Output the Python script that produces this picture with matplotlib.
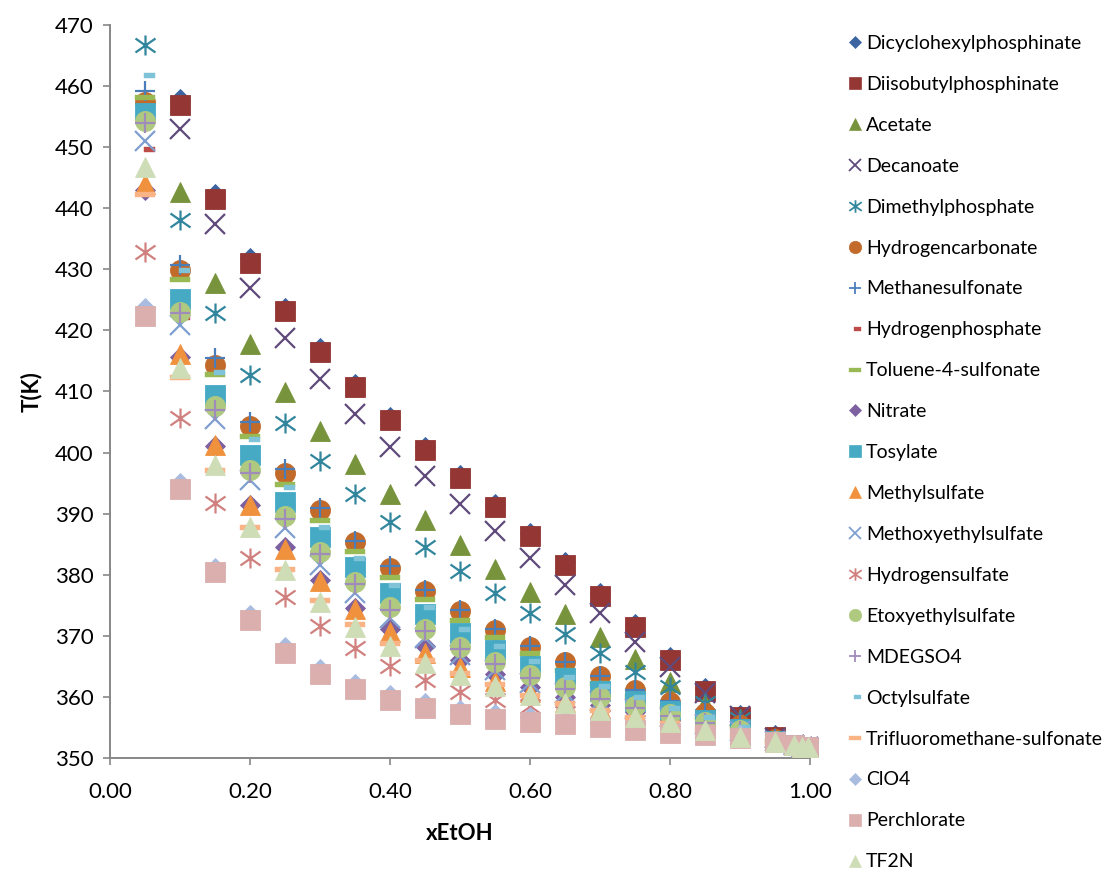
import numpy as np
import matplotlib
matplotlib.use("Agg")
import matplotlib.pyplot as plt
from matplotlib.path import Path
from matplotlib.lines import Line2D

nan = np.nan

# Mole fraction of ethanol
x_etoh = [0.05, 0.10, 0.15, 0.20, 0.25, 0.30, 0.35, 0.40, 0.45, 0.50, 0.55,
          0.60, 0.65, 0.70, 0.75, 0.80, 0.85, 0.90, 0.95, 0.977, 0.988, 0.997]

# Boiling temperatures (K) per anion
dicyclohexylphosphinate = [nan, 457.8, 442.3, 431.8, 423.7, 417.1, 411.3, 405.9, 401.0, 396.4, 391.6,
                           386.8, 382.1, 377.0, 371.9, 366.6, 361.5, 357.1, 353.8, 352.1, 351.9, 351.8]
diisobutylphosphinate = [nan, 456.8, 441.5, 431.1, 423.1, 416.5, 410.7, 405.4, 400.5, 395.9, 391.1,
                         386.3, 381.6, 376.5, 371.4, 366.1, 361.0, 356.7, 353.5, 352.1, 351.9, 351.8]
acetate = [nan, 442.6, 427.7, 417.7, 409.9, 403.6, 398.2, 393.3, 388.9, 384.9, 381.0,
           377.2, 373.6, 369.9, 366.2, 362.5, 358.9, 356.4, 353.3, 352.1, 351.9, 351.8]
decanoate = [nan, 452.9, 437.4, 426.9, 418.8, 412.1, 406.3, 401.0, 396.2, 391.6, 387.1,
             382.7, 378.3, 373.7, 369.1, 365.0, 360.6, 357.0, 353.4, 352.1, 351.9, 351.8]
dimethylphosphate = [466.6, 438.1, 422.9, 412.7, 404.9, 398.7, 393.3, 388.7, 384.6, 380.7, 377.1,
                     373.8, 370.4, 367.2, 364.1, 361.6, 359.0, 356.4, 353.2, 352.1, 351.9, 351.8]
hydrogencarbonate = [457.3, 429.8, 414.4, 404.3, 396.7, 390.6, 385.3, 381.2, 377.4, 374.1, 371.0,
                     368.2, 365.7, 363.4, 361.1, 359.2, 357.4, 355.5, 353.1, 352.1, 351.9, 351.8]
methanesulfonate = [459.2, 430.7, 415.4, 405.0, 397.3, 390.9, 385.6, 381.4, 377.6, 374.2, 371.1,
                    368.3, 365.8, 363.5, 361.2, 359.3, 357.5, 355.6, 353.1, 352.1, 351.9, 351.8]
hydrogenphosphate = [449.6, 422.2, 408.6, 398.8, 391.2, 385.5, 380.6, 376.5, 373.0, 370.0, 367.2,
                     364.7, 362.6, 360.6, 358.8, 357.2, 355.9, 354.6, 352.9, 352.1, 351.9, 351.8]
toluene_4_sulfonate = [458.1, 428.4, 412.9, 402.7, 394.9, 388.9, 383.9, 379.7, 376.0, 372.7, 369.8,
                       367.2, 364.4, 362.3, 360.2, 358.4, 356.8, 355.2, 353.0, 352.1, 351.9, 351.8]
nitrate = [443.0, 415.6, 401.1, 391.5, 384.6, 379.1, 374.6, 371.2, 368.4, 366.1, 363.8,
           361.7, 360.1, 358.8, 357.5, 356.3, 355.2, 354.1, 352.8, 352.1, 351.9, 351.8]
tosylate = [455.6, 425.2, 409.4, 399.6, 391.9, 386.2, 381.3, 377.1, 373.6, 370.5, 367.7,
            365.1, 363.1, 361.0, 359.3, 357.7, 356.3, 354.8, 352.9, 352.1, 351.9, 351.8]
methylsulfate = [444.0, 416.2, 401.3, 391.4, 384.3, 379.0, 374.5, 370.7, 367.3, 365.0, 362.6,
                 360.9, 359.2, 358.3, 357.0, 356.0, 354.9, 353.9, 352.8, 352.1, 351.9, 351.8]
methoxyethylsulfate = [451.0, 420.8, 405.5, 395.5, 387.6, 381.6, 377.0, 372.9, 369.6, 366.9, 364.4,
                       362.3, 360.6, 359.3, 358.0, 356.8, 355.6, 354.4, 352.9, 352.1, 351.9, 351.8]
hydrogensulfate = [432.9, 405.7, 391.7, 382.8, 376.4, 371.7, 368.0, 365.1, 362.8, 360.9, 359.6,
                   358.6, 357.4, 356.7, 355.9, 355.1, 354.3, 353.5, 352.6, 352.1, 351.9, 351.8]
etoxyethylsulfate = [454.3, 423.0, 407.6, 397.2, 389.6, 383.8, 378.9, 374.8, 371.2, 368.2, 365.8,
                     363.6, 361.7, 360.0, 358.6, 357.3, 356.0, 354.6, 352.9, 352.1, 351.9, 351.8]
mdegso4 = [454.0, 422.8, 407.0, 396.6, 389.2, 383.4, 378.5, 374.2, 370.8, 367.8, 365.4,
           363.2, 361.3, 359.7, 358.3, 357.0, 355.8, 354.5, 352.9, 352.1, 351.9, 351.8]
octylsulfate = [461.7, 429.8, 413.2, 402.3, 394.3, 387.8, 382.7, 378.3, 374.7, 371.2, 368.4,
                365.9, 363.3, 361.9, 360.0, 358.3, 356.7, 355.1, 353.0, 352.1, 351.9, 351.8]
trifluoromethanesulfonate = [442.3, 412.3, 397.2, 387.8, 381.0, 375.9, 371.9, 368.8, 366.1, 364.0, 362.1,
                             360.3, 359.0, 357.9, 356.8, 355.8, 354.8, 353.8, 352.7, 352.1, 351.9, 351.8]
clo4 = [423.6, 395.0, 381.2, 373.4, 368.2, 364.6, 362.2, 360.3, 359.0, 357.9, 357.2,
        356.7, 356.3, 355.8, 355.3, 354.7, 354.3, 353.8, 352.9, 352.1, 351.9, 351.8]
perchlorate = [422.4, 394.0, 380.4, 372.6, 367.3, 363.8, 361.4, 359.5, 358.2, 357.2, 356.5,
               356.0, 355.6, 355.2, 354.7, 354.1, 353.8, 353.4, 352.6, 352.1, 351.9, 351.8]
tf2n = [446.8, 413.8, 398.0, 387.8, 380.8, 375.6, 371.5, 368.3, 365.6, 363.7, 361.8,
        360.3, 359.1, 357.9, 356.7, 355.9, 354.6, 353.5, 352.6, 352.1, 351.9, 351.8]

labels = ["Dicyclohexylphosphinate", "Diisobutylphosphinate", "Acetate", "Decanoate",
          "Dimethylphosphate", "Hydrogencarbonate", "Methanesulfonate", "Hydrogenphosphate",
          "Toluene-4-sulfonate", "Nitrate", "Tosylate", "Methylsulfate", "Methoxyethylsulfate",
          "Hydrogensulfate", "Etoxyethylsulfate", "MDEGSO4", "Octylsulfate",
          "Trifluoromethane-sulfonate", "ClO4", "Perchlorate", "TF2N"]
series = [dicyclohexylphosphinate, diisobutylphosphinate, acetate, decanoate,
          dimethylphosphate, hydrogencarbonate, methanesulfonate, hydrogenphosphate,
          toluene_4_sulfonate, nitrate, tosylate, methylsulfate, methoxyethylsulfate,
          hydrogensulfate, etoxyethylsulfate, mdegso4, octylsulfate,
          trifluoromethanesulfonate, clo4, perchlorate, tf2n]
colors = ["#3B64A0", "#943634", "#77933C", "#604A7B", "#31859C", "#C26A2A", "#4A7EBB",
          "#BE4B48", "#98B954", "#7D60A0", "#46AAC5", "#F0913E", "#7F9FD0", "#D0807E",
          "#B0C980", "#A08CBB", "#7EC3D8", "#F9B384", "#A9BCE0", "#DBAFAE", "#CFDDB7"]

# Custom marker shapes
star = Path([(0, -1), (0, 1), (-1, -0.7), (1, 0.7), (-1, 0.7), (1, -0.7)],
            [Path.MOVETO, Path.LINETO] * 3)
long_dash = Path([(-1, -0.25), (1, -0.25), (1, 0.25), (-1, 0.25), (-1, -0.25)],
                 [Path.MOVETO, Path.LINETO, Path.LINETO, Path.LINETO, Path.CLOSEPOLY])
short_dash = Path([(-0.1, -0.25), (1, -0.25), (1, 0.25), (-0.1, 0.25), (-0.1, -0.25)],
                  [Path.MOVETO, Path.LINETO, Path.LINETO, Path.LINETO, Path.CLOSEPOLY])

MS = 14.4
# (marker, size, edge width, filled)
styles = {
    "diamond": ("D", MS / 1.414, 0.6, True),
    "square": ("s", MS, 0.6, True),
    "triangle": ("^", MS, 0.6, True),
    "x": ("x", MS, 1.6, False),
    "star": (star, MS, 1.6, False),
    "circle": ("o", MS, 0.6, True),
    "plus": ("+", MS, 1.6, False),
    "short": (short_dash, MS, 0.3, True),
    "long": (long_dash, MS, 0.3, True),
}
cycle = ["diamond", "square", "triangle", "x", "star", "circle", "plus", "short", "long"]

FONT = ["Lato", "DejaVu Sans"]
plt.rcParams["font.family"] = FONT

fig = plt.figure(figsize=(11.08, 8.71), dpi=100)
ax = fig.add_axes([110 / 1108, 1 - 758.3 / 871, 700 / 1108, (758.3 - 24.7) / 871])

handles = []
for i, (vals, lab, col) in enumerate(zip(series, labels, colors)):
    mk, ms, mew, filled = styles[cycle[i % len(cycle)]]
    kw = dict(marker=mk, markersize=ms, linestyle="none", markeredgewidth=mew,
              markeredgecolor=col, markerfacecolor=col if filled else "none",
              color=col, zorder=3 + i, clip_on=False)
    ax.plot(x_etoh, vals, **kw)
    hkw = dict(kw)
    hkw["markersize"] = ms * 0.62
    hkw["markeredgewidth"] = mew * 0.8
    handles.append(Line2D([], [], label=lab, **hkw))

ax.set_xlim(0, 1)
ax.set_ylim(350, 470)
ax.set_xticks(np.arange(0, 1.01, 0.2))
ax.set_xticklabels([f"{v:.2f}" for v in np.arange(0, 1.01, 0.2)])
ax.set_yticks(np.arange(350, 471, 10))

for side in ("top", "right"):
    ax.spines[side].set_visible(False)
for side in ("left", "bottom"):
    ax.spines[side].set_color("#878787")
    ax.spines[side].set_linewidth(1.4)
ax.tick_params(axis="both", direction="out", length=5, width=1.2, color="#878787",
               labelsize=16, labelcolor="#000000")
ax.tick_params(axis="y", pad=7)
ax.tick_params(axis="x", pad=12)

ax.set_ylabel("T(K)", fontsize=16, fontweight="bold", labelpad=9)
ax.set_xlabel("xEtOH", fontsize=16, fontweight="bold", labelpad=15)

fig.legend(handles=handles, loc="upper left", bbox_to_anchor=(847 / 1108, 1 - 35 / 871),
           frameon=False, fontsize=14, handlelength=0.8, handletextpad=0.17,
           labelspacing=1.23, borderaxespad=0, borderpad=0)

fig.savefig("out.png", dpi=100, facecolor="white")
